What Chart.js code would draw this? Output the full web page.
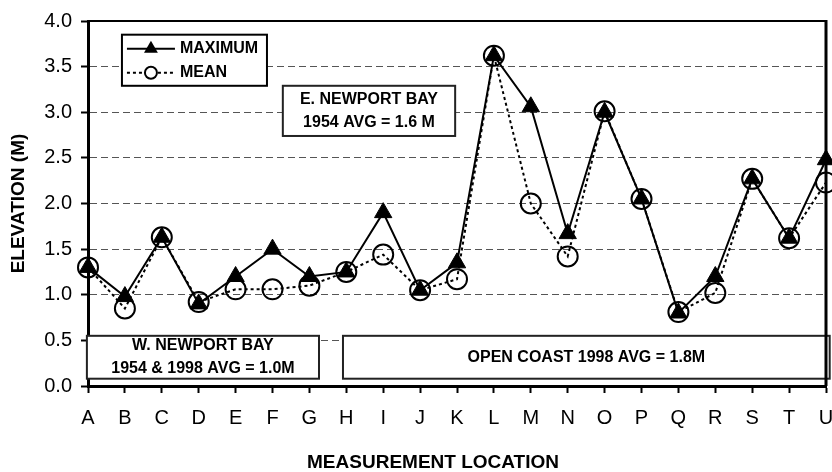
<!DOCTYPE html>
<html>
<head>
<meta charset="utf-8">
<script src="https://cdn.jsdelivr.net/npm/chart.js@4.4.0/dist/chart.umd.min.js"></script>
<style>
  html, body { margin: 0; padding: 0; background: #fff; }
  #wrap { width: 832px; height: 472px; }
</style>
</head>
<body>
<div id="wrap"><canvas id="elevationChart" width="832" height="472"></canvas></div>
<script>
// measurement locations and elevations (m)
const locations = ["A", "B", "C", "D", "E", "F", "G", "H", "I", "J", "K",
                   "L", "M", "N", "O", "P", "Q", "R", "S", "T", "U"];
const maximumElevation = [1.30, 0.98, 1.63, 0.90, 1.20, 1.50, 1.20, 1.25, 1.90, 1.05, 1.35,
                          3.62, 3.06, 1.67, 3.00, 2.05, 0.80, 1.20, 2.27, 1.62, 2.48];
const meanElevation = [1.30, 0.85, 1.63, 0.92, 1.06, 1.06, 1.10, 1.25, 1.44, 1.05, 1.17,
                       3.62, 2.00, 1.42, 3.01, 2.05, 0.81, 1.02, 2.27, 1.62, 2.23];
const seriesLabels = ["MAXIMUM", "MEAN"];
const xTitle = "MEASUREMENT LOCATION";

const FONT = "'Liberation Sans', Arial, sans-serif";

// text boxes, placed in data units (x = location index, y = elevation)
const noteBoxes = [
    { lines: ["E. NEWPORT BAY", "1954 AVG = 1.6 M"], x0: 5.28, x1: 9.95, y0: 2.74, y1: 3.29 },
    { lines: ["W. NEWPORT BAY", "1954 & 1998 AVG = 1.0M"], x0: -0.03, x1: 6.26, y0: 0.08, y1: 0.55 },
    { lines: ["OPEN COAST 1998 AVG = 1.8M"], x0: 6.91, x1: 20.1, y0: 0.08, y1: 0.55 },
];
const legendBox = { x0: 0.92, x1: 4.85, y0: 3.29, y1: 3.85 };

function drawTriangle(ctx, x, y, r) {
    ctx.beginPath();
    for (let k = 0; k < 3; k++) {
        const a = k * 2 * Math.PI / 3;
        const px = x + Math.sin(a) * r, py = y - Math.cos(a) * r;
        if (k === 0) ctx.moveTo(px, py); else ctx.lineTo(px, py);
    }
    ctx.closePath();
    ctx.fillStyle = "#000";
    ctx.fill();
}

const notesPlugin = {
    id: "notes",
    beforeDatasetsDraw(chart) {
        const { ctx, scales: { x, y } } = chart;
        ctx.save();
        ctx.font = "bold 16px " + FONT;
        ctx.textAlign = "center";
        ctx.textBaseline = "middle";
        noteBoxes.forEach(b => {
            const l = x.getPixelForValue(b.x0), r = x.getPixelForValue(b.x1);
            const t = y.getPixelForValue(b.y1), btm = y.getPixelForValue(b.y0);
            ctx.fillStyle = "#fff";
            ctx.fillRect(l, t, r - l, btm - t);
            ctx.strokeStyle = "#222";
            ctx.lineWidth = 2;
            ctx.strokeRect(l, t, r - l, btm - t);
            ctx.fillStyle = "#000";
            const gap = 23;
            const cy = (t + btm) / 2 - (b.lines.length - 1) * gap / 2;
            b.lines.forEach((s, i) => ctx.fillText(s, (l + r) / 2, cy + i * gap));
        });

        // legend
        const l = x.getPixelForValue(legendBox.x0), r = x.getPixelForValue(legendBox.x1);
        const t = y.getPixelForValue(legendBox.y1), btm = y.getPixelForValue(legendBox.y0);
        ctx.fillStyle = "#fff";
        ctx.fillRect(l, t, r - l, btm - t);
        ctx.strokeStyle = "#000";
        ctx.lineWidth = 2;
        ctx.strokeRect(l, t, r - l, btm - t);
        const rowY = [t + 14, t + 38];
        ctx.beginPath();
        ctx.moveTo(l + 5, rowY[0]); ctx.lineTo(l + 53, rowY[0]);
        ctx.stroke();
        drawTriangle(ctx, l + 29, rowY[0], 8);
        ctx.setLineDash([3, 3]);
        ctx.beginPath();
        ctx.moveTo(l + 5, rowY[1]); ctx.lineTo(l + 22, rowY[1]);
        ctx.moveTo(l + 36, rowY[1]); ctx.lineTo(l + 53, rowY[1]);
        ctx.stroke();
        ctx.setLineDash([]);
        ctx.beginPath();
        ctx.arc(l + 29, rowY[1], 6, 0, 2 * Math.PI);
        ctx.stroke();
        ctx.fillStyle = "#000";
        ctx.textAlign = "left";
        ctx.fillText(seriesLabels[0], l + 58, rowY[0]);
        ctx.fillText(seriesLabels[1], l + 58, rowY[1]);
        ctx.restore();
    },
    afterDatasetsDraw(chart) {
        const { ctx, chartArea: a } = chart;
        ctx.save();
        ctx.strokeStyle = "#000";
        ctx.lineWidth = 2;
        ctx.beginPath();
        ctx.moveTo(a.left, a.top); ctx.lineTo(a.right, a.top);
        ctx.stroke();
        ctx.lineWidth = 3;
        ctx.beginPath();
        ctx.moveTo(a.right, a.top - 1); ctx.lineTo(a.right, a.bottom);
        ctx.stroke();
        // x axis title sits a little left of the plot centre
        ctx.font = "bold 19px " + FONT;
        ctx.fillStyle = "#000";
        ctx.textAlign = "center";
        ctx.textBaseline = "middle";
        ctx.fillText(xTitle, (a.left + a.right) / 2 - 24, 463);
        ctx.restore();
    },
};

const ctx = document.getElementById("elevationChart").getContext("2d");

new Chart(ctx, {
    type: "line",
    data: {
        labels: locations,
        datasets: [
            {
                label: seriesLabels[0],
                data: maximumElevation,
                borderColor: "#000",
                borderWidth: 2,
                pointStyle: "triangle",
                pointRadius: 10,
                pointBackgroundColor: "#000",
                pointBorderColor: "#000",
                pointBorderWidth: 1,
                tension: 0,
                clip: false,
            },
            {
                label: seriesLabels[1],
                data: meanElevation,
                borderColor: "#000",
                borderWidth: 2,
                borderDash: [3, 3],
                pointStyle: "circle",
                pointRadius: 10,
                pointBackgroundColor: "rgba(0,0,0,0)",
                pointBorderColor: "#000",
                pointBorderWidth: 2,
                tension: 0,
                clip: false,
            },
        ],
    },
    options: {
        responsive: false,
        animation: false,
        devicePixelRatio: 1,
        layout: { autoPadding: false, padding: { left: 0, right: 6, top: 20, bottom: 0 } },
        plugins: {
            legend: { display: false },
            tooltip: { enabled: false },
        },
        scales: {
            x: {
                offset: false,
                grid: {
                    drawOnChartArea: false,
                    drawTicks: true,
                    tickLength: 7,
                    tickWidth: 2,
                    tickColor: "#000",
                },
                border: { color: "#000", width: 3 },
                ticks: {
                    color: "#000",
                    font: { family: FONT, size: 20 },
                    padding: 13,
                    maxRotation: 0,
                    autoSkip: false,
                },
                afterFit(scale) {
                    scale.height = 86;
                    scale.paddingLeft = 0;
                    scale.paddingRight = 0;
                },
            },
            y: {
                min: 0,
                max: 4,
                grid: {
                    color: c => (c.tick && (c.tick.value === 0 || c.tick.value === 4)) ? "rgba(0,0,0,0)" : "#555",
                    lineWidth: 1,
                    tickLength: 7,
                    tickWidth: 2,
                    tickColor: "#000",
                },
                border: { color: "#000", width: 3, dash: [7, 4] },
                ticks: {
                    stepSize: 0.5,
                    color: "#000",
                    font: { family: FONT, size: 20 },
                    padding: 9,
                    callback: v => v.toFixed(1),
                },
                title: {
                    display: true,
                    text: "ELEVATION (M)",
                    color: "#000",
                    font: { family: FONT, size: 19, weight: "bold" },
                    padding: { top: 7, bottom: 0 },
                },
                afterFit(scale) { scale.width = 88; },
            },
        },
    },
    plugins: [notesPlugin],
});
</script>
</body>
</html>
